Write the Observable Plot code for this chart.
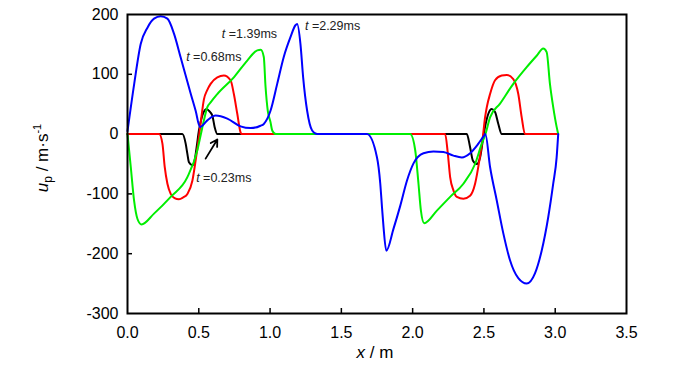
<!DOCTYPE html>
<html><head><meta charset="utf-8">
<script src="https://cdn.jsdelivr.net/npm/d3@7"></script>
<script src="https://cdn.jsdelivr.net/npm/@observablehq/plot@0.6"></script>
<style>body{margin:0;background:#fff} #chart{width:700px;height:365px}</style>
</head><body><div id="chart"></div>
<script>
const xTicks = [0, 0.5, 1.0, 1.5, 2.0, 2.5, 3.0, 3.5];
const yTicks = [200, 100, 0, -100, -200, -300];

const blackX = [0, 0.385, 0.408, 0.42, 0.431, 0.455, 0.471, 0.485, 0.501, 0.525, 0.555, 0.571, 0.595, 0.611, 0.63, 2.38, 2.403, 2.422, 2.45, 2.473, 2.492, 2.508, 2.531, 2.555, 2.578, 2.601, 2.625, 3.02];
const blackY = [0, 0, -16, -33, -47, -52, -44, -22, 6, 31, 42, 39, 31, 12, 0, 0, -22, -44, -50, -39, -11, 12, 34, 42, 37, 17, 0, 0];

const redX = [0, 0.222, 0.245, 0.261, 0.28, 0.303, 0.33, 0.361, 0.39, 0.42, 0.455, 0.478, 0.501, 0.518, 0.536, 0.56, 0.583, 0.63, 0.676, 0.723, 0.746, 0.77, 0.793, 0.80, 2.228, 2.247, 2.263, 2.286, 2.31, 2.356, 2.403, 2.438, 2.468, 2.492, 2.508, 2.52, 2.543, 2.578, 2.625, 2.66, 2.706, 2.741, 2.765, 2.788, 3.02];
const redY = [0, 0, -16, -55, -83, -100, -107, -109, -106, -100, -78, -44, -5, 28, 58, 74, 84, 95, 98, 90, 67, 34, 3, 0, 0, -33, -72, -94, -105, -108, -103, -83, -44, -5, 28, 45, 67, 90, 98, 99, 92, 67, 28, 0, 0];

const greenX = [0, 0.023, 0.046, 0.07, 0.098, 0.186, 0.303, 0.42, 0.49, 0.513, 0.536, 0.56, 0.583, 0.63, 0.746, 0.84, 0.91, 0.935, 0.956, 0.968, 0.984, 1.003, 1.015, 1.04, 1.983, 2.018, 2.041, 2.058, 2.081, 2.17, 2.263, 2.356, 2.438, 2.485, 2.508, 2.543, 2.613, 2.706, 2.8, 2.87, 2.916, 2.94, 2.963, 2.986, 3.01, 3.021];
const greenY = [0, -55, -111, -142, -151, -133, -105, -72, -27, -2, 23, 45, 53, 67, 95, 123, 140, 141, 129, 80, 39, 20, 6, 0, 0, -27, -83, -128, -149, -128, -105, -83, -50, -16, -2, 28, 51, 84, 112, 131, 143, 137, 84, 45, 12, 0];

const blueX = [0, 0.047, 0.093, 0.14, 0.186, 0.233, 0.28, 0.326, 0.373, 0.408, 0.443, 0.478, 0.508, 0.56, 0.618, 0.70, 0.793, 0.863, 0.933, 0.956, 1.003, 1.05, 1.096, 1.143, 1.178, 1.19, 1.213, 1.232, 1.26, 1.295, 1.33, 1.68, 1.75, 1.773, 1.785, 1.796, 1.815, 1.866, 1.913, 1.96, 2.006, 2.076, 2.146, 2.216, 2.286, 2.345, 2.403, 2.461, 2.503, 2.51, 2.543, 2.59, 2.636, 2.683, 2.741, 2.80, 2.858, 2.905, 2.951, 2.986, 3.01, 3.021];
const blueY = [5, 84, 151, 178, 193, 197, 193, 168, 128, 98, 68, 39, 12, 23, 31, 26, 13, 10, 14, 17, 39, 84, 129, 162, 182, 184, 151, 95, 39, 6, 0, 0, -39, -83, -122, -156, -195, -158, -120, -78, -49, -32, -29, -30, -36, -39, -32, -16, -2, 0, -55, -111, -166, -211, -241, -250, -233, -195, -139, -83, -39, 0];

const seriesNames = ["0.23", "0.68", "1.39", "2.29"];
const seriesColors = ["#000000", "#ff0000", "#00ee00", "#0000ff"];
const seriesXs = [blackX, redX, greenX, blueX];
const seriesYs = [blackY, redY, greenY, blueY];

// annotation labels: start of text, in data units
const labelTexts = ["=0.23ms", "=0.68ms", "=1.39ms", "=2.29ms"];
const labelX = [0.485, 0.415, 0.665, 1.248];
const labelY = [-73, 128, 168, 180];
const arrowFrom = [0.548, -41];
const arrowTo = [0.63, -9];

const rows = seriesNames.flatMap((n, k) => seriesXs[k].map((x, i) => ({x, y: seriesYs[k][i], t: n})));

const chart = Plot.plot({
  width: 700, height: 365,
  marginLeft: 127, marginRight: 74, marginTop: 14, marginBottom: 52,
  x: {domain: [0, 3.5]},
  y: {domain: [-300, 200]},
  style: {fontFamily: "'Liberation Sans', Arial, sans-serif", fontSize: "16px", color: "#000", background: "#fff", overflow: "visible"},
  marks: [
    Plot.axisX({ticks: xTicks, tickSize: 0, tickPadding: 13, tickFormat: d3.format(".1f"), label: null}),
    Plot.axisY({ticks: yTicks, tickSize: 0, tickPadding: 9, tickFormat: d => String(d), label: null}),
    Plot.ruleX(xTicks.slice(1, -1), {x: d => d, y1: -300, y2: -300, insetTop: -5, stroke: "#000", strokeWidth: 1.5}),
    Plot.ruleY(yTicks.slice(1, -1), {y: d => d, x1: 0, x2: 0, insetRight: -5, stroke: "#000", strokeWidth: 1.5}),
    ...seriesNames.map((n, k) => Plot.line(rows.filter(r => r.t === n), {x: "x", y: "y", stroke: seriesColors[k], strokeWidth: 2, curve: "monotone-x"})),
    Plot.arrow([0], {x1: () => arrowFrom[0], y1: () => arrowFrom[1], x2: () => arrowTo[0], y2: () => arrowTo[1], stroke: "#000", strokeWidth: 1.8, headLength: 8}),
    Plot.frame({stroke: "#000", strokeWidth: 2})
  ]
});
document.getElementById("chart").appendChild(chart);

const svg = d3.select(chart);
const sx = chart.scale("x"), sy = chart.scale("y");
labelTexts.forEach((t, i) => {
  const tx = svg.append("text")
    .attr("x", sx.apply(labelX[i])).attr("y", sy.apply(labelY[i]))
    .attr("dy", "0.35em").attr("text-anchor", "start").attr("font-size", 12.5).attr("fill", "#222")
    .attr("font-family", "'Liberation Sans', Arial, sans-serif");
  tx.append("tspan").attr("font-style", "italic").text("t");
  tx.append("tspan").text(" " + t);
});

const xt = svg.append("text").attr("x", 375).attr("y", 358).attr("text-anchor", "middle")
  .attr("font-size", 17).attr("font-family", "'Liberation Sans', Arial, sans-serif").attr("fill", "#000");
xt.append("tspan").attr("font-style", "italic").text("x");
xt.append("tspan").text(" / m");

const yt = svg.append("text").attr("transform", "translate(48,158) rotate(-90)").attr("text-anchor", "middle")
  .attr("font-size", 17).attr("font-family", "'Liberation Sans', Arial, sans-serif").attr("fill", "#000");
yt.append("tspan").attr("font-style", "italic").text("u");
yt.append("tspan").attr("font-size", 12).attr("dy", 4).text("p");
yt.append("tspan").attr("dy", -4).text(" / m·s");
yt.append("tspan").attr("font-size", 11).attr("dy", -7).text("-1");
</script></body></html>
